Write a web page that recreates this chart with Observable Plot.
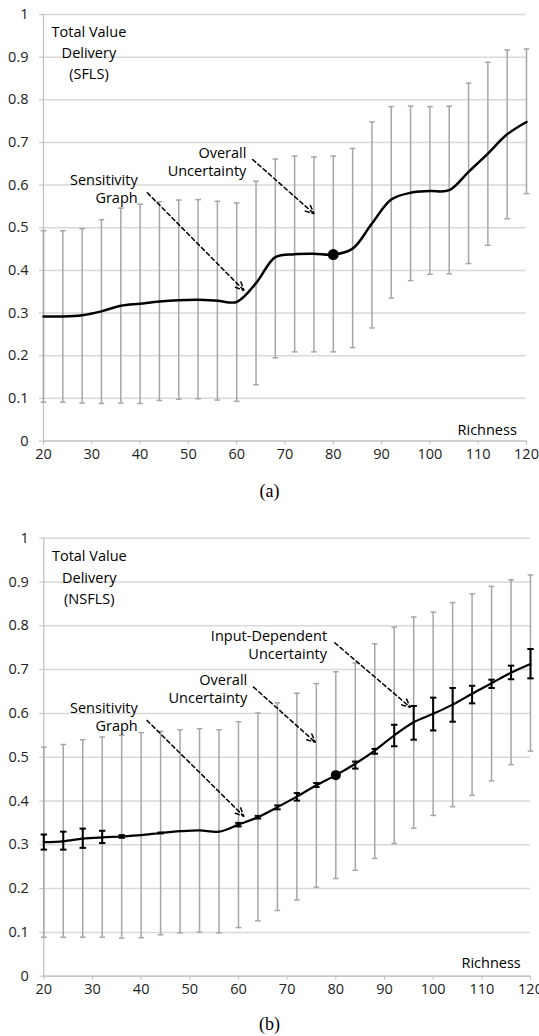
<!DOCTYPE html>
<html>
<head>
<meta charset="utf-8">
<script src="https://cdn.jsdelivr.net/npm/d3@7"></script>
<script src="https://cdn.jsdelivr.net/npm/@observablehq/plot@0.6"></script>
<style>
  html, body { margin: 0; padding: 0; background: #fff; }
  body { width: 539px; height: 1036px; position: relative; overflow: hidden; }
  .chart { position: absolute; left: 0; }
  .cap { position: absolute; left: 0; width: 539px; text-align: center;
         font-family: "Liberation Serif", "DejaVu Serif", serif; font-size: 18px; color: #000; }
</style>
</head>
<body>
<div id="a" class="chart" style="top:0px"></div>
<div class="cap" style="top:481px">(a)</div>
<div id="b" class="chart" style="top:510px"></div>
<div class="cap" style="top:1014px">(b)</div>
<script>
// ---- data ----
const richness = [20,24,28,32,36,40,44,48,52,56,60,64,68,72,76,80,84,88,92,96,100,104,108,112,116,120];
const xTicks = [20,30,40,50,60,70,80,90,100,110,120];
const yTicks = [0,0.1,0.2,0.3,0.4,0.5,0.6,0.7,0.8,0.9,1];

// (a) SFLS
const sflsMean = [0.292,0.292,0.295,0.304,0.317,0.322,0.327,0.330,0.331,0.329,0.326,0.370,0.431,0.438,0.439,0.437,0.451,0.510,0.566,0.582,0.586,0.588,0.631,0.674,0.719,0.748];
const sflsHigh = [0.493,0.493,0.498,0.519,0.546,0.555,0.561,0.565,0.566,0.562,0.558,0.609,0.661,0.668,0.666,0.668,0.686,0.748,0.784,0.785,0.784,0.785,0.839,0.888,0.917,0.919];
const sflsLow  = [0.091,0.091,0.089,0.088,0.089,0.088,0.095,0.098,0.099,0.096,0.093,0.132,0.195,0.209,0.209,0.209,0.219,0.265,0.335,0.376,0.391,0.392,0.416,0.459,0.521,0.580];

// (b) NSFLS
const nsflsMean = [0.306,0.308,0.314,0.317,0.319,0.322,0.327,0.331,0.333,0.330,0.346,0.363,0.386,0.410,0.436,0.459,0.485,0.515,0.550,0.580,0.599,0.620,0.645,0.669,0.693,0.713];
const nsflsHigh = [0.523,0.529,0.540,0.546,0.550,0.556,0.559,0.5625,0.565,0.5625,0.581,0.601,0.624,0.646,0.668,0.695,0.715,0.759,0.797,0.820,0.831,0.853,0.873,0.890,0.905,0.916];
const nsflsLow  = [0.089,0.089,0.089,0.089,0.087,0.088,0.0945,0.099,0.1005,0.099,0.111,0.1265,0.150,0.174,0.203,0.223,0.242,0.269,0.303,0.338,0.367,0.387,0.413,0.446,0.483,0.514];
const inputHigh = [0.3235,0.330,0.337,0.332,0.322,0.322,0.328,0.331,0.333,0.330,0.350,0.366,0.390,0.418,0.441,0.465,0.490,0.519,0.574,0.617,0.636,0.658,0.663,0.677,0.709,0.747];
const inputLow  = [0.289,0.289,0.293,0.304,0.316,0.322,0.326,0.331,0.333,0.330,0.342,0.360,0.381,0.401,0.432,0.453,0.474,0.508,0.525,0.540,0.561,0.581,0.623,0.658,0.678,0.680];

const highlightX = 80;

// ---- helpers ----
const FONT = "'Open Sans', Lato, sans-serif";
const capSymbol = w => ({ draw(ctx) { ctx.moveTo(-w, 0); ctx.lineTo(w, 0); } });

function rows(mean, hi, lo, ihi, ilo) {
  return richness.map((x, i) => ({ x, mean: mean[i], hi: hi[i], lo: lo[i],
    ihi: ihi ? ihi[i] : null, ilo: ilo ? ilo[i] : null }));
}

function chart({ data, label, dims, lineWidth, dotR, notes, arrows, inputBars }) {
  const gray = "#a6a6a6";
  const marks = [
    Plot.ruleY(yTicks, { stroke: "#d9d9d9", strokeWidth: 1.5 }),
    Plot.ruleX([20], { y1: 0, y2: 1, stroke: "#bfbfbf", strokeWidth: 1.2 }),
    Plot.ruleY([0], { stroke: "#bfbfbf", strokeWidth: 1.2 }),
    Plot.axisY({ ticks: yTicks, tickSize: 4, tickPadding: 11, stroke: "#bfbfbf",
      tickFormat: d => String(+d.toFixed(1)), fontSize: 14.5, fill: "#222" }),
    Plot.axisX({ ticks: xTicks, tickSize: 4, tickPadding: 4, stroke: "#bfbfbf",
      tickFormat: d => String(d), fontSize: 14.5, fill: "#222" }),
    // overall uncertainty bars
    Plot.ruleX(data, { x: "x", y1: "lo", y2: "hi", stroke: gray, strokeWidth: 1.5 }),
    Plot.dot(data, { x: "x", y: "hi", symbol: capSymbol(2.8), stroke: gray, strokeWidth: 1.5, fill: "none" }),
    Plot.dot(data, { x: "x", y: "lo", symbol: capSymbol(2.8), stroke: gray, strokeWidth: 1.5, fill: "none" }),
  ];
  if (inputBars) {
    const ib = data.filter(d => d.ihi > d.ilo);
    marks.push(
      Plot.ruleX(ib, { x: "x", y1: "ilo", y2: "ihi", stroke: "#000", strokeWidth: 2 }),
      Plot.dot(ib, { x: "x", y: "ihi", symbol: capSymbol(3.2), stroke: "#000", strokeWidth: 2, fill: "none" }),
      Plot.dot(ib, { x: "x", y: "ilo", symbol: capSymbol(3.2), stroke: "#000", strokeWidth: 2, fill: "none" })
    );
  }
  marks.push(
    Plot.line(data, { x: "x", y: "mean", curve: "catmull-rom", stroke: "#000", strokeWidth: lineWidth }),
    Plot.dot(data.filter(d => d.x === highlightX), { x: "x", y: "mean", r: dotR, fill: "#000" })
  );
  for (const a of arrows) {
    marks.push(Plot.arrow([a], { x1: "x1", y1: "y1", x2: "x2", y2: "y2", stroke: "#000",
      strokeWidth: 1.5, strokeDasharray: "4,3", headLength: 9, headAngle: 50, bend: 0 }));
  }
  for (const n of notes) {
    marks.push(Plot.text([n], { x: "x", y: "y", text: "t", textAnchor: n.anchor, lineAnchor: "middle",
      lineHeight: n.lh, fontSize: 14.5, fill: "#000" }));
  }
  marks.push(Plot.text([label], { x: 118, y: label.y, text: "t", textAnchor: "end", fontSize: 14.5, fill: "#000" }));
  return Plot.plot({
    width: 539, height: dims.height,
    marginLeft: dims.ml, marginRight: dims.mr, marginTop: dims.mt, marginBottom: dims.mb,
    style: { fontFamily: FONT, background: "transparent", overflow: "hidden" },
    x: { domain: [20, 120] },
    y: { domain: [0, 1] },
    marks
  });
}

// ---- chart (a) ----
document.getElementById("a").append(chart({
  data: rows(sflsMean, sflsHigh, sflsLow),
  label: { t: "Richness", y: 0.026 },
  dims: { height: 470, ml: 43, mr: 13, mt: 14, mb: 29.5 },
  lineWidth: 2.5, dotR: 5.5, inputBars: false,
  notes: [
    { t: "Total Value\nDelivery\n(SFLS)", x: 29.4, y: 0.914, anchor: "middle", lh: 1.46 },
    { t: "Sensitivity\nGraph", x: 39.5, y: 0.592, anchor: "end", lh: 1.25 },
    { t: "Overall\nUncertainty", x: 62.0, y: 0.657, anchor: "end", lh: 1.25 }
  ],
  arrows: [
    { x1: 41.5, y1: 0.582, x2: 61.5, y2: 0.353 },
    { x1: 63.3, y1: 0.660, x2: 76.0, y2: 0.533 }
  ]
}));

// ---- chart (b) ----
document.getElementById("b").append(chart({
  data: rows(nsflsMean, nsflsHigh, nsflsLow, inputHigh, inputLow),
  label: { t: "Richness", y: 0.030 },
  dims: { height: 500, ml: 43.3, mr: 9, mt: 27.7, mb: 34.3 },
  lineWidth: 2.2, dotR: 5, inputBars: true,
  notes: [
    { t: "Total Value\nDelivery\n(NSFLS)", x: 29.35, y: 0.914, anchor: "middle", lh: 1.46 },
    { t: "Sensitivity\nGraph", x: 39.3, y: 0.593, anchor: "end", lh: 1.25 },
    { t: "Overall\nUncertainty", x: 61.8, y: 0.658, anchor: "end", lh: 1.25 },
    { t: "Input-Dependent\nUncertainty", x: 78.2, y: 0.759, anchor: "end", lh: 1.25 }
  ],
  arrows: [
    { x1: 41.2, y1: 0.584, x2: 61.1, y2: 0.365 },
    { x1: 63.1, y1: 0.660, x2: 75.8, y2: 0.534 },
    { x1: 79.8, y1: 0.761, x2: 95.3, y2: 0.614 }
  ]
}));
</script>
</body>
</html>
